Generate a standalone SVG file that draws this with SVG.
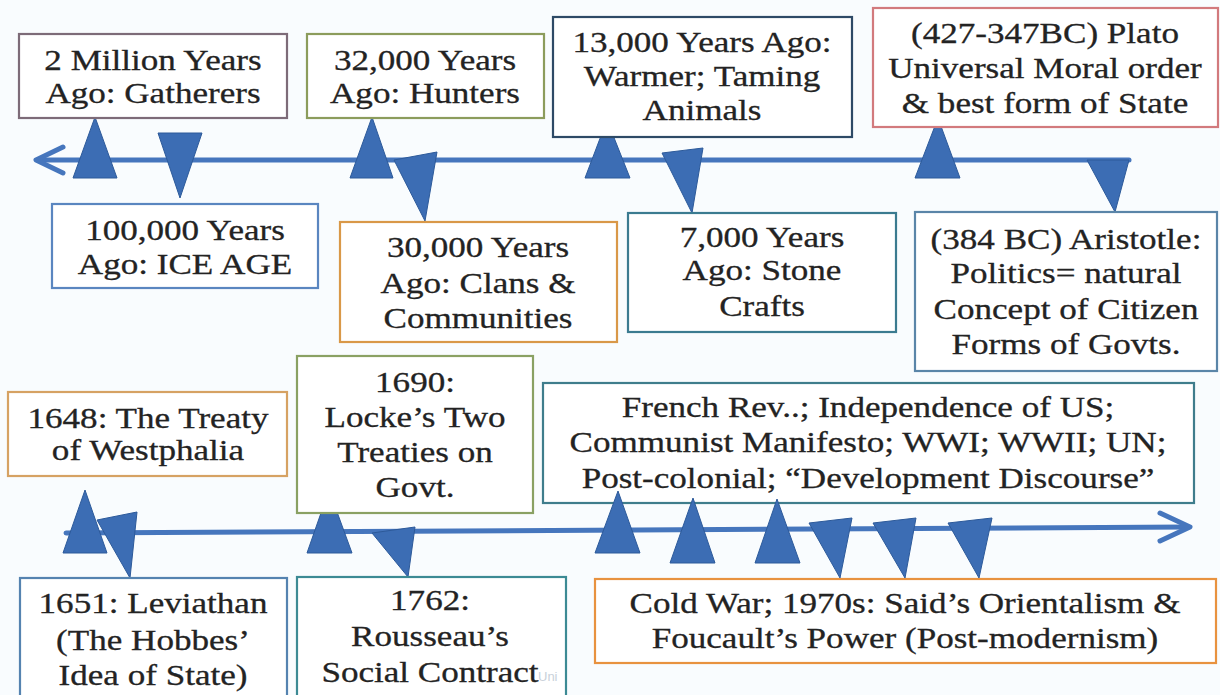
<svg xmlns="http://www.w3.org/2000/svg" width="1220" height="695" viewBox="0 0 1220 695">
<defs>
<style>
.bg{fill:#f9fcfe}
.box{fill:#ffffff;stroke-width:2.2}
.t{font-family:"Liberation Serif","Times New Roman",serif;font-size:30px;fill:#232323;stroke:#232323;stroke-width:0.3;text-anchor:middle}
.axis{stroke:#4676bd;stroke-width:5;fill:none;stroke-linecap:round;stroke-linejoin:round}
.tri{fill:#3c6db4;stroke:#2d5a9a;stroke-width:1;stroke-linejoin:round}
.wm{font-family:"Liberation Sans",Arial,sans-serif;font-size:13px;fill:#c9d1da}
</style>
</defs>
<rect class="bg" x="0" y="0" width="1220" height="695"/>

<g id="connectors-back">
  <path class="axis" d="M38 160 L1129 160"/>
  <path class="axis" d="M63 147 L36 160 L63 173"/>
  <path class="axis" d="M66 533 L1188 527"/>
  <path class="axis" d="M1160 513 L1190 527 L1160 541"/>
  <polygon class="tri" points="95,117 73,178 117,178"/>
  <polygon class="tri" points="158,133 202,133 180,198"/>
  <polygon class="tri" points="372,117 350,178 393,178"/>
  <polygon class="tri" points="394,160 437,152 425,221"/>
  <polygon class="tri" points="607,120 585,178 630,178"/>
  <polygon class="tri" points="662,153 703,148 692,213"/>
  <polygon class="tri" points="938,118 915,178 960,178"/>
  <polygon class="tri" points="1087,160 1129,160 1115,212"/>
  <polygon class="tri" points="85,490 63,553 107,553"/>
  <polygon class="tri" points="97,520 137,512 130,578"/>
  <polygon class="tri" points="329,490 307,553 352,553"/>
  <polygon class="tri" points="372,533 415,527 408,577"/>
</g>

<g id="n-2million">
  <rect class="box" x="19" y="34" width="268" height="84" stroke="#7d6b78"/>
  <g transform="translate(153 0) scale(1.17 1)">
    <text class="t" x="0" y="70">2 Million Years</text>
    <text class="t" x="0" y="103">Ago: Gatherers</text>
  </g>
</g>
<g id="n-32000">
  <rect class="box" x="307" y="34" width="237" height="84" stroke="#8c9c5c"/>
  <g transform="translate(425 0) scale(1.17 1)">
    <text class="t" x="0" y="70">32,000 Years</text>
    <text class="t" x="0" y="103">Ago: Hunters</text>
  </g>
</g>
<g id="n-13000">
  <rect class="box" x="553" y="17" width="299" height="120" stroke="#2e4a66"/>
  <g transform="translate(702 0) scale(1.17 1)">
    <text class="t" x="0" y="52">13,000 Years Ago:</text>
    <text class="t" x="0" y="86">Warmer; Taming</text>
    <text class="t" x="0" y="120">Animals</text>
  </g>
</g>
<g id="n-plato">
  <rect class="box" x="873" y="8" width="345" height="119" stroke="#d27a7d"/>
  <g transform="translate(1045 0) scale(1.17 1)">
    <text class="t" x="0" y="43">(427-347BC) Plato</text>
    <text class="t" x="0" y="78">Universal Moral order</text>
    <text class="t" x="0" y="113">&amp; best form of State</text>
  </g>
</g>
<g id="n-100000">
  <rect class="box" x="52" y="204" width="266" height="84" stroke="#5a86c0"/>
  <g transform="translate(185 0) scale(1.17 1)">
    <text class="t" x="0" y="240">100,000 Years</text>
    <text class="t" x="0" y="274">Ago: ICE AGE</text>
  </g>
</g>
<g id="n-30000">
  <rect class="box" x="340" y="222" width="277" height="120" stroke="#d99848"/>
  <g transform="translate(478 0) scale(1.17 1)">
    <text class="t" x="0" y="257">30,000 Years</text>
    <text class="t" x="0" y="293">Ago: Clans &amp;</text>
    <text class="t" x="0" y="328">Communities</text>
  </g>
</g>
<g id="n-7000">
  <rect class="box" x="628" y="213" width="268" height="119" stroke="#3b7b90"/>
  <g transform="translate(762 0) scale(1.17 1)">
    <text class="t" x="0" y="247">7,000 Years</text>
    <text class="t" x="0" y="280">Ago: Stone</text>
    <text class="t" x="0" y="316">Crafts</text>
  </g>
</g>
<g id="n-aristotle">
  <rect class="box" x="915" y="212" width="302" height="159" stroke="#5a85a8"/>
  <g transform="translate(1066 0) scale(1.17 1)">
    <text class="t" x="0" y="249">(384 BC) Aristotle:</text>
    <text class="t" x="0" y="283">Politics= natural</text>
    <text class="t" x="0" y="319">Concept of Citizen</text>
    <text class="t" x="0" y="354">Forms of Govts.</text>
  </g>
</g>
<g id="n-1648">
  <rect class="box" x="8" y="392" width="279" height="84" stroke="#d6a263"/>
  <g transform="translate(148 0) scale(1.17 1)">
    <text class="t" x="0" y="428">1648: The Treaty</text>
    <text class="t" x="0" y="460">of Westphalia</text>
  </g>
</g>
<g id="n-1690">
  <rect class="box" x="297" y="356" width="236" height="157" stroke="#8aa163"/>
  <g transform="translate(415 0) scale(1.17 1)">
    <text class="t" x="0" y="392">1690:</text>
    <text class="t" x="0" y="427">Locke’s Two</text>
    <text class="t" x="0" y="462">Treaties on</text>
    <text class="t" x="0" y="497">Govt.</text>
  </g>
</g>
<g id="n-french">
  <rect class="box" x="543" y="383" width="651" height="120" stroke="#3f7d8c"/>
  <g transform="translate(868 0) scale(1.17 1)">
    <text class="t" x="0" y="417">French Rev..; Independence of US;</text>
    <text class="t" x="0" y="452">Communist Manifesto; WWI; WWII; UN;</text>
    <text class="t" x="0" y="488">Post-colonial; “Development Discourse”</text>
  </g>
</g>
<g id="n-1651">
  <rect class="box" x="20" y="578" width="267" height="130" stroke="#5583b0"/>
  <g transform="translate(153 0) scale(1.17 1)">
    <text class="t" x="0" y="613">1651: Leviathan</text>
    <text class="t" x="0" y="650">(The Hobbes’</text>
    <text class="t" x="0" y="685">Idea of State)</text>
  </g>
</g>
<g id="n-1762">
  <rect class="box" x="297" y="577" width="269" height="130" stroke="#3c8a94"/>
  <g transform="translate(430 0) scale(1.17 1)">
    <text class="t" x="0" y="610">1762:</text>
    <text class="t" x="0" y="646">Rousseau’s</text>
    <text class="t" x="0" y="682">Social Contract</text>
  </g>
  <text class="wm" x="538" y="681">Uni</text>
</g>
<g id="n-coldwar">
  <rect class="box" x="595" y="579" width="621" height="84" stroke="#e8923f"/>
  <g transform="translate(905 0) scale(1.17 1)">
    <text class="t" x="0" y="613">Cold War; 1970s: Said’s Orientalism &amp;</text>
    <text class="t" x="0" y="648">Foucault’s Power (Post-modernism)</text>
  </g>
</g>

<g id="connectors-front">
  <polygon class="tri" points="618,491 595,553 640,553"/>
  <polygon class="tri" points="693,498 670,563 715,563"/>
  <polygon class="tri" points="777,499 755,563 800,563"/>
  <polygon class="tri" points="809,523 852,518 840,578"/>
  <polygon class="tri" points="873,523 916,518 905,578"/>
  <polygon class="tri" points="948,523 992,518 979,578"/>
</g>
</svg>
